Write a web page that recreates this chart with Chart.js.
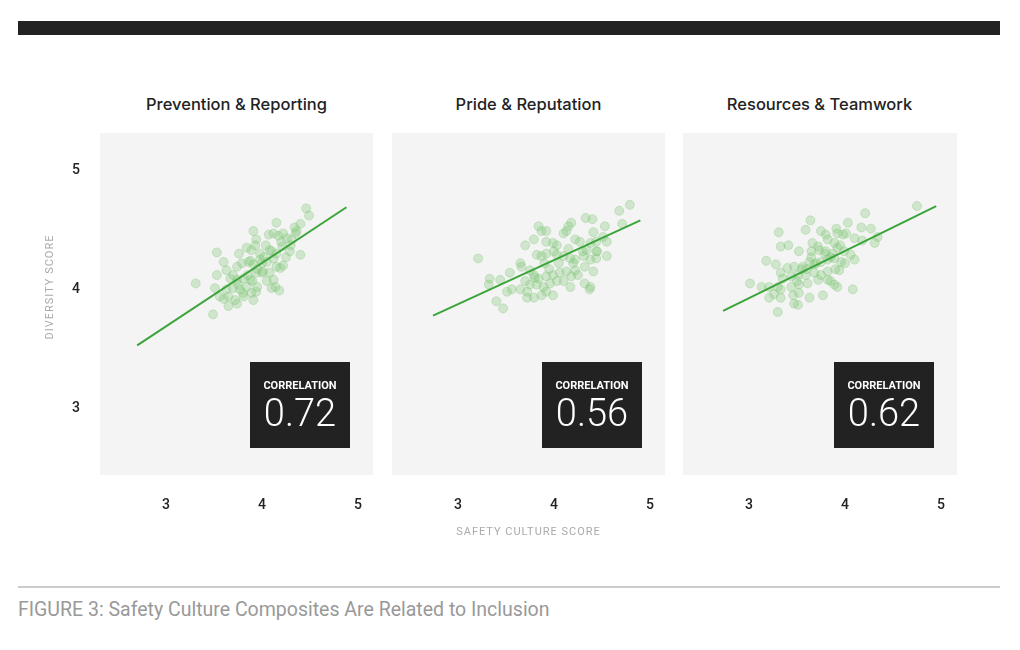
<!DOCTYPE html>
<html>
<head>
<meta charset="utf-8">
<script src="https://cdn.jsdelivr.net/npm/chart.js@4.4.0/dist/chart.umd.min.js"></script>
<style>
	body { margin: 0; background: #fff; width: 1020px; height: 650px; position: relative; overflow: hidden; font-family: Roboto, sans-serif; }
	.topbar { position: absolute; left: 18px; top: 21px; width: 982px; height: 14px; background: #222; }
	.panel-title { position: absolute; top: 94px; width: 273px; text-align: center; font: 500 16.5px Inter, sans-serif; color: #222; }
	canvas { position: absolute; top: 103px; }
	.rule { position: absolute; left: 18px; top: 586px; width: 982px; height: 2px; background: #ccc; }
	.caption { position: absolute; left: 18px; top: 598px; font: 400 19.5px Roboto, sans-serif; color: #999; }
</style>
</head>
<body>
<div class="topbar"></div>
<div class="panel-title" style="left:100px">Prevention &amp; Reporting</div>
<div class="panel-title" style="left:392px">Pride &amp; Reputation</div>
<div class="panel-title" style="left:683px">Resources &amp; Teamwork</div>
<canvas id="panel0" width="363" height="442" style="left:30px"></canvas>
<canvas id="panel1" width="363" height="442" style="left:322px"></canvas>
<canvas id="panel2" width="364" height="442" style="left:613px"></canvas>
<div class="rule"></div>
<div class="caption">FIGURE 3: Safety Culture Composites Are Related to Inclusion</div>
<script>
const correlations = ['0.72', '0.56', '0.62'];
const xTicks = [3, 4, 5];
const yTicks = [3, 4, 5];

// Prevention & Reporting
const preventionX = [4.46,4.49,4.15,4.34,4.40,4.36,3.91,4.07,4.12,4.17,4.22,4.26,4.31,3.94,3.93,3.53,3.76,3.84,3.89,4.04,4.08,3.98,4.40,4.29,4.21,3.60,3.63,3.53,3.74,3.79,3.86,3.91,3.98,4.05,4.12,4.15,4.19,3.67,3.74,3.81,3.88,3.94,4.01,4.08,3.31,3.51,3.63,3.70,3.77,3.84,3.89,3.94,4.12,4.14,4.18,4.10,3.56,3.65,3.72,3.81,3.91,3.65,3.74,3.49,
	4.00,4.02,3.95,4.10,3.85,3.90,4.05,3.70,4.25,4.30,3.80,3.95,4.20,4.15,3.88,4.00,3.60,3.75,4.35,4.22];
const preventionY = [4.66,4.60,4.54,4.50,4.53,4.47,4.47,4.44,4.45,4.43,4.45,4.41,4.40,4.40,4.35,4.29,4.28,4.33,4.31,4.35,4.31,4.28,4.27,4.30,4.34,4.21,4.14,4.10,4.17,4.20,4.21,4.19,4.23,4.21,4.24,4.17,4.16,4.07,4.06,4.07,4.06,4.12,4.13,4.12,4.03,3.99,3.98,3.99,3.98,4.00,3.95,3.96,4.06,4.00,3.97,3.99,3.92,3.92,3.89,3.92,3.89,3.84,3.86,3.77,
	4.20,4.25,4.15,4.30,4.10,4.05,4.05,4.10,4.25,4.35,3.95,4.00,4.38,4.28,4.22,4.12,3.90,4.02,4.45,4.18];
const preventionFitX = [2.70, 4.88];
const preventionFitY = [3.51, 4.67];

// Pride & Reputation
const prideX = [4.79,4.68,4.33,4.40,4.18,4.15,3.84,3.87,3.92,4.10,4.13,4.41,4.53,4.71,3.79,3.70,3.92,3.99,4.03,4.22,4.27,4.38,4.44,4.51,4.55,3.21,3.65,3.66,3.54,3.75,3.82,3.87,3.92,4.03,4.10,4.17,4.22,4.31,4.38,4.44,4.55,4.44,4.34,3.79,3.84,3.92,3.99,4.06,4.13,4.22,4.32,4.41,3.33,3.32,3.44,3.51,3.56,3.65,3.72,3.75,3.82,3.89,3.96,4.03,4.18,4.32,4.38,4.17,3.92,3.99,3.72,3.79,3.87,4.37,3.40,3.47,
	4.05,4.20,3.95,4.30,4.10,3.90,4.25,4.00,4.45,3.80,4.15,3.70];
const prideY = [4.69,4.64,4.58,4.57,4.54,4.51,4.51,4.47,4.47,4.45,4.47,4.46,4.51,4.53,4.40,4.35,4.38,4.37,4.35,4.40,4.38,4.37,4.38,4.42,4.38,4.24,4.20,4.17,4.12,4.14,4.27,4.26,4.28,4.27,4.26,4.24,4.23,4.26,4.23,4.24,4.26,4.30,4.31,4.10,4.07,4.09,4.10,4.12,4.13,4.14,4.17,4.13,4.07,4.02,4.06,3.96,3.98,3.98,3.96,4.02,4.02,4.00,4.03,4.05,4.09,4.03,4.00,4.00,3.96,3.93,3.91,3.91,3.93,3.98,3.88,3.82,
	4.20,4.20,4.15,4.30,4.05,4.20,4.10,4.30,4.30,4.08,4.32,4.05];
const prideFitX = [2.74, 4.90];
const prideFitY = [3.76, 4.56];

// Resources & Teamwork
const resourcesX = [4.75,4.21,3.64,4.03,3.91,4.17,4.27,3.59,3.31,3.75,3.80,3.92,3.98,4.01,3.82,4.10,4.18,4.34,4.31,3.33,3.41,3.66,3.72,3.89,3.92,3.52,3.65,3.73,3.79,3.87,3.99,4.06,4.10,3.18,3.28,3.40,3.47,3.56,3.63,3.68,3.75,3.82,3.89,3.96,3.94,3.82,3.68,3.59,3.51,3.44,3.33,3.35,3.01,3.13,3.21,3.30,3.33,3.44,3.52,3.61,3.72,3.82,3.89,3.92,4.08,3.21,3.26,3.33,3.46,3.52,3.63,3.77,3.47,3.51,3.30,
	3.70,3.85,3.90,3.60,3.75,3.80,3.95,3.65,4.00,3.50,3.55,3.85];
const resourcesY = [4.68,4.62,4.56,4.54,4.49,4.50,4.49,4.48,4.46,4.47,4.44,4.45,4.44,4.45,4.40,4.41,4.39,4.42,4.37,4.34,4.35,4.37,4.34,4.37,4.33,4.30,4.30,4.31,4.28,4.28,4.30,4.27,4.23,4.22,4.19,4.16,4.17,4.17,4.21,4.19,4.21,4.23,4.24,4.21,4.14,4.13,4.12,4.10,4.10,4.09,4.12,4.07,4.03,4.00,4.00,4.00,3.98,4.00,4.02,4.03,4.06,4.06,4.02,4.00,3.98,3.91,3.94,3.91,3.93,3.95,3.91,3.93,3.86,3.85,3.79,
	4.20,4.25,4.15,4.15,4.10,4.30,4.35,4.25,4.20,4.05,4.15,4.05];
const resourcesFitX = [2.73, 4.95];
const resourcesFitY = [3.80, 4.68];

const panels = [
	{x: preventionX, y: preventionY, fitX: preventionFitX, fitY: preventionFitY},
	{x: prideX, y: prideY, fitX: prideFitX, fitY: prideFitY},
	{x: resourcesX, y: resourcesY, fitX: resourcesFitX, fitY: resourcesFitY}
];

const toPoints = (xs, ys) => xs.map((v, i) => ({x: v, y: ys[i]}));

const tickFont = {family: 'Roboto, sans-serif', size: 14, weight: 500};

// grey plot background, correlation box, spaced axis titles
const panelDecor = {
	id: 'panelDecor',
	beforeDraw(chart) {
		const {ctx, chartArea: a} = chart;
		ctx.save();
		ctx.fillStyle = '#f4f4f4';
		ctx.fillRect(a.left, a.top, a.right - a.left, a.bottom - a.top);
		ctx.restore();
	},
	afterDraw(chart, args, opts) {
		const {ctx, chartArea: a} = chart;
		const bw = 100, bh = 86;
		const bx = a.right - 23 - bw, by = a.bottom - 27 - bh;
		ctx.save();
		ctx.fillStyle = '#222';
		ctx.fillRect(bx, by, bw, bh);
		ctx.fillStyle = '#fff';
		ctx.textAlign = 'center';
		ctx.textBaseline = 'middle';
		ctx.font = 'bold 11px Roboto, sans-serif';
		ctx.fillText('CORRELATION', bx + bw / 2, by + 24);
		ctx.font = '300 38px Roboto, sans-serif';
		ctx.fillText(opts.value, bx + bw / 2, by + 54);
		ctx.fillStyle = '#aaa';
		ctx.font = '11px Roboto, sans-serif';
		ctx.letterSpacing = '1px';
		if (opts.xTitle) {
			ctx.fillText(opts.xTitle, (a.left + a.right) / 2, a.bottom + 57);
		}
		if (opts.yTitle) {
			ctx.translate(20, chart.scales.y.getPixelForValue(4));
			ctx.rotate(-Math.PI / 2);
			ctx.fillText(opts.yTitle, 0, 0);
		}
		ctx.restore();
	}
};

panels.forEach((p, i) => {
	new Chart(document.getElementById('panel' + i), {
		data: {
			datasets: [{
				type: 'line',
				data: toPoints(p.fitX, p.fitY),
				borderColor: '#3ba43a',
				borderWidth: 2,
				pointRadius: 0
			}, {
				type: 'scatter',
				data: toPoints(p.x, p.y),
				pointRadius: 4.5,
				backgroundColor: 'rgba(130, 200, 120, 0.32)',
				borderColor: 'rgba(120, 195, 110, 0.3)',
				borderWidth: 1
			}]
		},
		options: {
			responsive: false,
			animation: false,
			events: [],
			layout: {padding: {top: 30, right: 20, left: 0, bottom: 0}},
			plugins: {
				legend: {display: false},
				tooltip: {enabled: false},
				panelDecor: {
					value: correlations[i],
					yTitle: i === 0 ? 'DIVERSITY SCORE' : '',
					xTitle: i === 1 ? 'SAFETY CULTURE SCORE' : ''
				}
			},
			scales: {
				x: {
					type: 'linear',
					min: 2.3125,
					max: 2.3125 + (i === 2 ? 274 : 273) / 96,
					afterBuildTicks: s => { s.ticks = xTicks.map(v => ({value: v})); },
					afterFit: s => { s.height = 70; },
					grid: {display: false, drawTicks: false},
					border: {display: false},
					ticks: {padding: 22, color: '#222', font: tickFont}
				},
				y: {
					type: 'linear',
					min: 2.42,
					max: 5.294,
					afterBuildTicks: s => { s.ticks = yTicks.map(v => ({value: v})); },
					afterFit: s => { s.width = 70; },
					grid: {display: false, drawTicks: false},
					border: {display: false},
					ticks: {display: i === 0, padding: 20, labelOffset: 3, color: '#222', font: tickFont}
				}
			}
		},
		plugins: [panelDecor]
	});
});
</script>
</body>
</html>
